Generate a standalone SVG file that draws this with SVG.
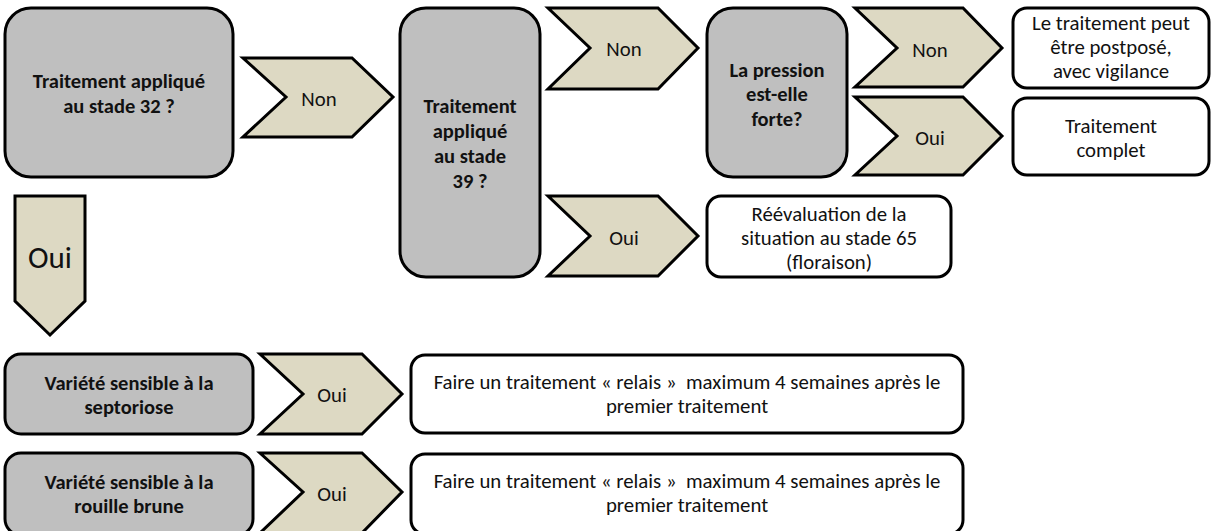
<svg xmlns="http://www.w3.org/2000/svg" width="1212" height="531" viewBox="0 0 1212 531">
  <style>
    .q { fill: #bfbfbf; stroke: #000; stroke-width: 3; }
    .r { fill: #ffffff; stroke: #000; stroke-width: 3; }
    .arr { fill: #ddd9c3; stroke: #000; stroke-width: 3; stroke-linejoin: miter; }
    text { font-family: Carlito, Lato, "Liberation Sans", sans-serif; font-size: 20.8px; fill: #111; text-anchor: middle; }
    .b { font-weight: bold; font-size: 20.5px; }
    .big { font-size: 31px; }
  </style>
  <rect width="1212" height="531" fill="#ffffff"/>

  <!-- question boxes -->
  <g id="q32">
    <rect class="q" x="5" y="8" width="228" height="169" rx="26"/>
    <text class="b" x="119" y="88">Traitement appliqué</text>
    <text class="b" x="119" y="113">au stade 32 ?</text>
  </g>
  <g id="q39">
    <rect class="q" x="400" y="8" width="140" height="269" rx="26"/>
    <text class="b" x="470" y="113">Traitement</text>
    <text class="b" x="470" y="138">appliqué</text>
    <text class="b" x="470" y="163">au stade</text>
    <text class="b" x="470" y="188">39 ?</text>
  </g>
  <g id="qPression">
    <rect class="q" x="707" y="8" width="140" height="169" rx="26"/>
    <text class="b" x="777" y="77">La pression</text>
    <text class="b" x="777" y="101">est-elle</text>
    <text class="b" x="777" y="126">forte?</text>
  </g>
  <g id="qSeptoriose">
    <rect class="q" x="5" y="354" width="248" height="80" rx="16"/>
    <text class="b" x="129" y="390">Variété sensible à la</text>
    <text class="b" x="129" y="414">septoriose</text>
  </g>
  <g id="qRouille">
    <rect class="q" x="5" y="453" width="248" height="82" rx="16"/>
    <text class="b" x="129" y="489">Variété sensible à la</text>
    <text class="b" x="129" y="513">rouille brune</text>
  </g>

  <!-- outcome boxes -->
  <g id="rPostpose">
    <rect class="r" x="1013" y="8" width="196" height="80" rx="14"/>
    <text x="1111" y="30">Le traitement peut</text>
    <text x="1111" y="54">être postposé,</text>
    <text x="1111" y="78">avec vigilance</text>
  </g>
  <g id="rComplet">
    <rect class="r" x="1013" y="98" width="196" height="77" rx="14"/>
    <text x="1111" y="133">Traitement</text>
    <text x="1111" y="157">complet</text>
  </g>
  <g id="rReevaluation">
    <rect class="r" x="707" y="196" width="244" height="81" rx="14"/>
    <text x="829" y="221">Réévaluation de la</text>
    <text x="829" y="245">situation au stade 65</text>
    <text x="829" y="269">(floraison)</text>
  </g>
  <g id="rRelais1">
    <rect class="r" x="411" y="355" width="552" height="78" rx="14"/>
    <text x="687" y="389">Faire un traitement « relais » &#160;maximum 4 semaines après le</text>
    <text x="687" y="413">premier traitement</text>
  </g>
  <g id="rRelais2">
    <rect class="r" x="411" y="454" width="552" height="80" rx="14"/>
    <text x="687" y="488">Faire un traitement « relais » &#160;maximum 4 semaines après le</text>
    <text x="687" y="512">premier traitement</text>
  </g>

  <!-- chevron connectors -->
  <g id="connectors">
    <g id="c32Non">
      <path class="arr" d="M243,58 L352,58 L393,97 L352,137 L243,137 L286,97 Z"/>
      <text x="319" y="106">Non</text>
    </g>
    <g id="c32Oui">
      <path class="arr" d="M15,196 L85,196 L85,301 L50,335 L15,301 Z"/>
      <text class="big" x="50" y="268">Oui</text>
    </g>
    <g id="c39Non">
      <path class="arr" d="M548,8 L658,8 L698,48 L658,89 L548,89 L590,48 Z"/>
      <text x="624" y="56">Non</text>
    </g>
    <g id="c39Oui">
      <path class="arr" d="M548,196 L658,196 L698,236 L658,276 L548,276 L590,236 Z"/>
      <text x="624" y="245">Oui</text>
    </g>
    <g id="cPressionNon">
      <path class="arr" d="M855,8 L963,8 L1002,48 L963,87 L855,87 L897,48 Z"/>
      <text x="930" y="57">Non</text>
    </g>
    <g id="cPressionOui">
      <path class="arr" d="M855,97 L963,97 L1002,136 L963,175 L855,175 L897,136 Z"/>
      <text x="930" y="145">Oui</text>
    </g>
    <g id="cSeptorioseOui">
      <path class="arr" d="M260,354 L362,354 L402,394 L362,434 L260,434 L303,394 Z"/>
      <text x="332" y="402">Oui</text>
    </g>
    <g id="cRouilleOui">
      <path class="arr" d="M260,453 L362,453 L402,492 L362,533 L260,533 L303,492 Z"/>
      <text x="332" y="501">Oui</text>
    </g>
  </g>
</svg>
